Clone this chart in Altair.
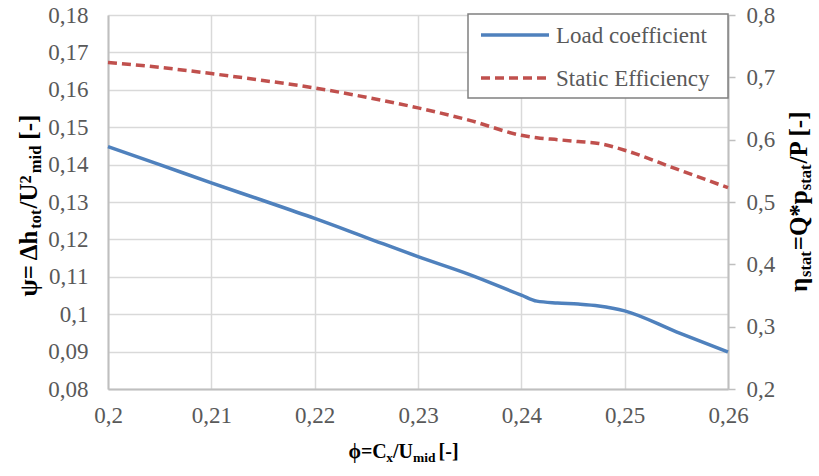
import altair as alt
import pandas as pd

# ---------------- data ----------------
phi = [0.2, 0.205, 0.21, 0.215, 0.22, 0.225, 0.23, 0.235, 0.24, 0.2415,
       0.2435, 0.2455, 0.2475, 0.25, 0.255, 0.26]
psi = [0.1448, 0.1400, 0.1351, 0.1304, 0.1256, 0.1205, 0.1154, 0.1106, 0.1051, 0.1035,
       0.1030, 0.1027, 0.1022, 0.1009, 0.0953, 0.0899]
eta = [0.724, 0.716, 0.706, 0.695, 0.683, 0.668, 0.651, 0.631, 0.607, 0.603,
       0.600, 0.597, 0.594, 0.583, 0.553, 0.523]
x_ticks = [0.2, 0.21, 0.22, 0.23, 0.24, 0.25, 0.26]
left_ticks = [0.08, 0.09, 0.1, 0.11, 0.12, 0.13, 0.14, 0.15, 0.16, 0.17, 0.18]
right_ticks = [0.2, 0.3, 0.4, 0.5, 0.6, 0.7, 0.8]
series = ["Load coefficient", "Static Efficiency"]

df = pd.DataFrame({"phi": phi, "psi": psi, "eta": eta})

# ---------------- styling / layout ----------------
W, H = 620, 374
OX, OY = 108, 15            # plot origin in the page
FONT = "Liberation Serif"
BLUE, RED = "#4f81bd", "#c0504d"
LBL = "#595959"
GRID = "#d9d9d9"
AXL = "#bfbfbf"
comma = "replace(format(datum.value, '~r'), '.', ',')"

common_axis = dict(labelFont=FONT, labelFontSize=23, labelColor=LBL, labelExpr=comma,
                   title=None, labelFlush=False, labelOverlap=False,
                   domainColor=AXL, domainWidth=2, gridColor=GRID, gridWidth=1.5)

xenc = alt.X("phi:Q", scale=alt.Scale(domain=[0.2, 0.26], nice=False, zero=False),
             axis=alt.Axis(values=x_ticks, grid=True, ticks=False, tickSize=0,
                           labelPadding=15, **common_axis))

blue = alt.Chart(df).mark_line(color=BLUE, strokeWidth=3.5, interpolate="monotone").encode(
    x=xenc,
    y=alt.Y("psi:Q", scale=alt.Scale(domain=[0.08, 0.18], nice=False, zero=False),
            axis=alt.Axis(orient="left", values=left_ticks, grid=True, ticks=False,
                          tickSize=0, labelPadding=20, **common_axis)),
)
red = alt.Chart(df).mark_line(color=RED, strokeWidth=3.5, strokeDash=[9, 5],
                              interpolate="monotone").encode(
    x=xenc,
    y=alt.Y("eta:Q", scale=alt.Scale(domain=[0.2, 0.8], nice=False, zero=False),
            axis=alt.Axis(orient="right", values=right_ticks, grid=False, ticks=True,
                          tickSize=7, tickColor=AXL, tickWidth=1.5, labelPadding=11,
                          **common_axis)),
)

one = pd.DataFrame({"k": [0]})

# ---------------- manual legend ----------------
legend_box = alt.Chart(one).mark_rect(fill="white", stroke="#808080", strokeWidth=1.5).encode(
    x=alt.value(468 - OX), x2=alt.value(728 - OX), y=alt.value(14 - OY), y2=alt.value(98 - OY))
leg_blue = alt.Chart(one).mark_rule(color=BLUE, strokeWidth=3.5).encode(
    x=alt.value(481 - OX), x2=alt.value(549 - OX), y=alt.value(35 - OY))
leg_red = alt.Chart(one).mark_rule(color=RED, strokeWidth=3.5, strokeDash=[9, 5]).encode(
    x=alt.value(481 - OX), x2=alt.value(549 - OX), y=alt.value(78 - OY))
leg_t1 = alt.Chart(one).mark_text(text=series[0], font=FONT, fontSize=23, color=LBL,
                                  align="left", baseline="middle").encode(
    x=alt.value(556 - OX), y=alt.value(36 - OY))
leg_t2 = alt.Chart(one).mark_text(text=series[1], font=FONT, fontSize=23, color=LBL,
                                  align="left", baseline="middle").encode(
    x=alt.value(556 - OX), y=alt.value(79 - OY))

# ---------------- rich-text axis titles ----------------
WB = {' ': 0.25, '*': 0.5, '-': 0.333, '/': 0.278, '=': 0.57, '[': 0.333, ']': 0.333,
      '2': 0.5, 'C': 0.722, 'P': 0.611, 'Q': 0.778, 'U': 0.722, 'a': 0.5, 'd': 0.556,
      'h': 0.556, 'i': 0.278, 'm': 0.833, 'o': 0.5, 'p': 0.556, 's': 0.389, 't': 0.333,
      'x': 0.5, 'ψ': 0.69, 'Δ': 0.65, 'ϕ': 0.6, 'η': 0.556}


def tw(s, size):
    return sum(WB.get(c, 0.55) for c in s) * size


def rich(segs, cx, cy, rotated):
    """segs: list of (text, size, shift, gap); shift>0 = subscript (down)."""
    total = sum(tw(t, s) + g for t, s, _, g in segs)
    layers = []
    off = 0.0
    for t, s, sh, g in segs:
        kw = dict(text=t, font=FONT, fontSize=s, fontWeight="bold", color="black",
                  align="left", baseline="alphabetic", dx=off, dy=sh)
        if rotated:
            mk = alt.Chart(one).mark_text(angle=270, **kw)
            layers.append(mk.encode(x=alt.value(cx - OX), y=alt.value(cy + total / 2 - OY)))
        else:
            mk = alt.Chart(one).mark_text(**kw)
            layers.append(mk.encode(x=alt.value(cx - total / 2 - OX), y=alt.value(cy - OY)))
        off += tw(t, s) + g
    return layers


M, S = 25, 16.5
x_title = rich([("ϕ=C", 20, 0, 0), ("x", 13.5, 4, 0), ("/U", 20, 0, 0), ("mid", 13.5, 4, 3),
                (" [-]", 20, 0, 0)], 406, 458, False)
left_title = rich([("ψ= Δh", M, 0, 0), ("tot", S, 4, 1), ("/U", M, 0, 0), ("2", S, -6, 2),
                   ("mid", S, 4, 6), (" [-]", M, 0, 0)], 36.5, 202.5, True)
right_title = rich([("η", M, 0, 1), ("stat", S, 4, 1), ("=Q*p", M, 0, 0), ("stat", S, 4, 1),
                    ("/P [-]", M, 0, 0)], 807, 201, True)

chart = alt.layer(
    blue, red, legend_box, leg_blue, leg_red, leg_t1, leg_t2,
    *x_title, *left_title, *right_title
).resolve_scale(y="independent").properties(
    width=W, height=H,
    autosize=alt.AutoSizeParams(type="none"),
    padding={"left": OX, "top": OY, "right": 819 - OX - W, "bottom": 476 - OY - H},
    background="white",
).configure_view(stroke=None)

chart.save("out.html", embed_options={"renderer": "svg", "actions": False})
